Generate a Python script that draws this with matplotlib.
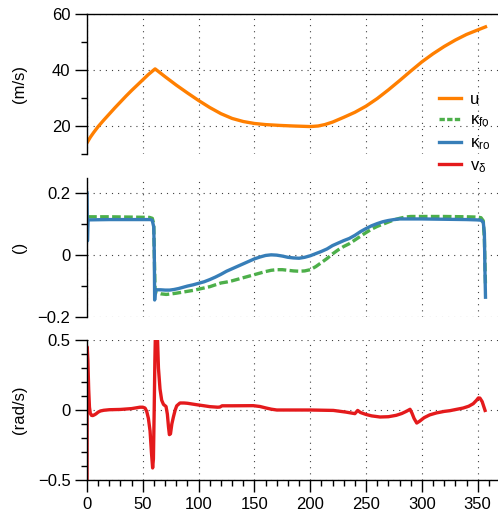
import matplotlib
matplotlib.use("Agg")
import matplotlib.pyplot as plt
import matplotlib.ticker as mticker
from matplotlib.lines import Line2D

plt.rcParams['font.family'] = ['Liberation Sans', 'DejaVu Sans']
plt.rcParams['mathtext.fontset'] = 'custom'
plt.rcParams['mathtext.rm'] = 'Liberation Sans'
plt.rcParams['mathtext.it'] = 'Liberation Sans:italic'
plt.rcParams['font.size'] = 12

# ---------------- data ----------------
u_t = [0, 3, 6, 10, 15, 20, 25, 30, 35, 40, 45, 50, 55, 61,
       70, 80, 90, 100, 110, 120, 130, 140, 150, 160, 173, 185, 200, 207, 213, 220,
       230, 240, 250, 260, 270, 280, 290, 300, 310, 320, 330, 340, 350, 357]
u_v = [14.0, 16.0, 17.7, 19.8, 22.1, 24.3, 26.5, 28.6, 30.7, 32.7, 34.6, 36.5, 38.4, 40.4,
       37.6, 34.6, 31.8, 29.1, 26.6, 24.4, 22.7, 21.6, 20.9, 20.5, 20.2, 20.0, 19.8, 20.0,
       20.5, 21.4, 23.1, 24.9, 27.1, 29.8, 32.9, 36.2, 39.6, 42.9, 45.8, 48.4, 50.7, 52.7,
       54.3, 55.4]

kfo_t = [1, 20, 40, 56, 58.5, 59.8, 60.3, 61, 62, 66, 71, 76, 80, 85, 90, 95, 100, 105,
         110, 115, 120, 125, 130, 135, 140, 145, 150, 155, 160, 165, 170, 175, 180, 185,
         190, 195, 200, 205, 210, 215, 220, 225, 230, 235, 240, 245, 250, 255, 260, 265,
         270, 275, 280, 285, 290, 300, 320, 340, 350, 353, 355, 356, 357]
kfo_v = [0.123, 0.123, 0.122, 0.121, 0.118, 0.1, 0.0, -0.12, -0.122, -0.126, -0.128,
         -0.126, -0.124, -0.121, -0.118, -0.115, -0.111, -0.107, -0.103, -0.097, -0.091,
         -0.088, -0.084, -0.079, -0.074, -0.069, -0.064, -0.059, -0.054, -0.050, -0.048,
         -0.048, -0.050, -0.052, -0.053, -0.052, -0.048, -0.038, -0.025, -0.012, 0.003,
         0.016, 0.027, 0.036, 0.048, 0.060, 0.072, 0.083, 0.092, 0.099, 0.106, 0.113,
         0.118, 0.122, 0.124, 0.124, 0.124, 0.123, 0.122, 0.12, 0.11, 0.05, -0.1]

kro_t = [0, 0.4, 1.0, 20, 40, 57, 58.5, 59.8, 60.3, 60.6, 61.2, 66, 70, 74, 78, 82, 86,
         90, 95, 100, 105, 110, 115, 120, 125, 130, 135, 140, 145, 150, 155, 160, 165,
         170, 175, 180, 185, 190, 195, 200, 205, 210, 215, 220, 225, 230, 235, 240, 245,
         250, 255, 260, 265, 270, 275, 280, 290, 300, 320, 340, 349, 353, 355, 356, 356.5,
         357]
kro_v = [0.2, 0.045, 0.113, 0.114, 0.114, 0.114, 0.111, 0.09, 0.0, -0.146, -0.113,
         -0.113, -0.114, -0.114, -0.112, -0.109, -0.105, -0.101, -0.097, -0.092, -0.087,
         -0.080, -0.072, -0.063, -0.053, -0.045, -0.037, -0.029, -0.021, -0.013, -0.007,
         -0.002, 0.0, -0.001, -0.004, -0.008, -0.010, -0.011, -0.008, -0.003, 0.004,
         0.011, 0.019, 0.030, 0.038, 0.046, 0.053, 0.063, 0.075, 0.085, 0.094, 0.101,
         0.107, 0.111, 0.114, 0.116, 0.116, 0.116, 0.115, 0.114, 0.113, 0.112, 0.105,
         0.07, -0.05, -0.137]

vd_t = [0, 0.2, 0.8, 1.5, 2.2, 3, 4, 5.1, 6.5, 8, 10, 12, 15, 20, 30, 40, 47.5, 50, 52,
        53.5, 55, 56.5, 57.7, 58.8, 59.5, 60.2, 60.8, 61.3, 62.2, 63.2, 64, 65.4, 66.9,
        68.5, 70.8, 72, 73, 73.8, 74.8, 76, 77.4, 79, 80.4, 83.3, 87, 90, 98, 105, 110,
        117, 119, 121, 130, 149, 155, 160, 165, 170, 200, 220.7, 232, 240, 242.5, 245,
        250, 255, 262.5, 270, 277, 282, 286, 289.4, 291, 293, 295.4, 298, 302, 307, 313,
        320, 325, 330, 337, 342, 346, 349, 350.6, 352, 354, 356.6]
vd_v = [-0.6, 0.45, 0.35, 0.15, 0.02, -0.025, -0.038, -0.04, -0.035, -0.028, -0.015,
        -0.007, -0.002, 0.002, 0.004, 0.01, 0.02, 0.02, 0.014, -0.01, -0.06, -0.15, -0.3,
        -0.414, -0.35, 0.0, 0.35, 0.55, 0.62, 0.5, 0.3, 0.15, 0.07, 0.04, 0.025, -0.03,
        -0.12, -0.176, -0.17, -0.1, -0.05, 0.0, 0.03, 0.05, 0.05, 0.048, 0.038, 0.03,
        0.024, 0.02, 0.021, 0.03, 0.03, 0.031, 0.025, 0.015, 0.006, 0.0, 0.0, -0.003,
        -0.015, -0.026, -0.003, -0.018, -0.032, -0.042, -0.05, -0.048, -0.038, -0.025,
        -0.01, 0.005, -0.02, -0.06, -0.093, -0.08, -0.055, -0.035, -0.021, -0.01, -0.005,
        0.003, 0.014, 0.027, 0.045, 0.07, 0.086, 0.085, 0.06, -0.003]

labels = ['u', 'κ$_\\mathrm{fo}$', 'κ$_\\mathrm{ro}$', 'v$_\\mathrm{δ}$']
colors = ['#FF7F00', '#4DAF4A', '#377EB8', '#E41A1C']

# ---------------- figure ----------------
W, H = 498, 514
fig = plt.figure(figsize=(W / 100, H / 100), dpi=100)

def frac(x0, y_top, y_bot):
    return [x0 / W, 1 - y_bot / H, 1 - x0 / W, (y_bot - y_top) / H]

ax1 = fig.add_axes(frac(87, 14, 154))
ax2 = fig.add_axes(frac(87, 177.5, 316.7))
ax3 = fig.add_axes(frac(87, 340, 480))

LW = 2.4
ax1.plot(u_t, u_v, color=colors[0], lw=LW)
ax2.plot(kfo_t, kfo_v, color=colors[1], lw=LW, dashes=(2.6, 1.0))
ax2.plot(kro_t, kro_v, color=colors[2], lw=LW)
ax3.plot(vd_t, vd_v, color=colors[3], lw=LW)

def fmt(v, pos):
    s = f'{v:g}'
    return s.replace('-', '\u2212')

for ax in (ax1, ax2, ax3):
    ax.set_xlim(0, 368.2)
    ax.spines['right'].set_visible(False)
    ax.xaxis.set_major_locator(mticker.MultipleLocator(50))
    ax.xaxis.set_minor_locator(mticker.MultipleLocator(10))
    ax.tick_params(which='major', direction='out', length=8.4, width=1.0, pad=3.5,
                   labelsize=12)
    ax.tick_params(which='minor', direction='out', length=4.6, width=1.0)
    ax.grid(True, which='major', color='0.25', lw=0.8, linestyle=(0, (1, 4.5)))
    ax.yaxis.set_major_formatter(mticker.FuncFormatter(fmt))
    ax.yaxis.set_label_coords(-0.146, 0.5)
    ax.set_facecolor('none')

ax1.set_ylim(10, 60)
ax1.yaxis.set_major_locator(mticker.MultipleLocator(20))
ax1.yaxis.set_minor_locator(mticker.MultipleLocator(10))
ax1.spines['bottom'].set_visible(False)
ax1.tick_params(axis='x', which='both', bottom=False, labelbottom=False)
ax1.set_ylabel('(m/s)')

ax2.set_ylim(-0.2, 0.25)
ax2.yaxis.set_major_locator(mticker.FixedLocator([-0.2, 0, 0.2]))
ax2.yaxis.set_minor_locator(mticker.FixedLocator([-0.1, 0.1]))
ax2.spines['bottom'].set_visible(False)
ax2.spines['top'].set_visible(False)
ax2.tick_params(axis='x', which='both', bottom=False, labelbottom=False)
ax2.set_ylabel('()')

ax3.set_ylim(-0.5, 0.5)
ax3.yaxis.set_major_locator(mticker.FixedLocator([-0.5, 0, 0.5]))
ax3.yaxis.set_minor_locator(mticker.MultipleLocator(0.1))
ax3.spines['top'].set_visible(False)
ax3.xaxis.set_major_formatter(mticker.FuncFormatter(fmt))
ax3.set_ylabel('(rad/s)')

for ax in (ax1, ax2, ax3):
    for sp in ax.spines.values():
        sp.set_linewidth(1.0)

handles = [Line2D([], [], color=colors[0], lw=LW),
           Line2D([], [], color=colors[1], lw=LW, dashes=(1.6, 0.7)),
           Line2D([], [], color=colors[2], lw=LW),
           Line2D([], [], color=colors[3], lw=LW)]
leg = fig.legend(handles, labels, loc='upper left',
                 bbox_to_anchor=(427 / W, 1 - 80 / H), frameon=False,
                 handlelength=1.35, handletextpad=0.5, labelspacing=0.36,
                 borderpad=0.2, fontsize=12)
leg.set_zorder(10)

fig.savefig('out.png', dpi=100)
